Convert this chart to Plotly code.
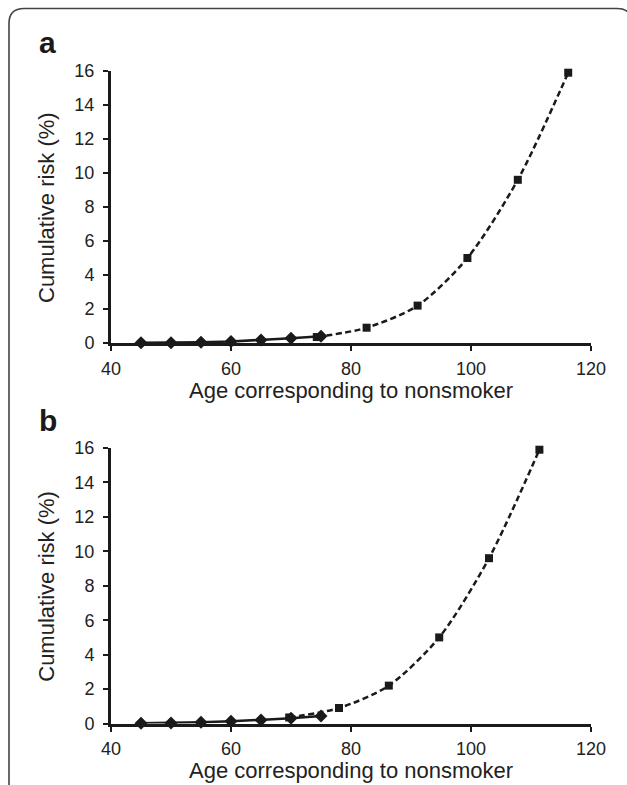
import plotly.graph_objects as go

W, H = 627, 785

# Data
smoker_ages = [45, 50, 55, 60, 65, 70, 75]
risk_a_solid = [0.01, 0.02, 0.04, 0.09, 0.17, 0.28, 0.40]
risk_b_solid = [0.01, 0.03, 0.07, 0.13, 0.20, 0.30, 0.44]

equiv_age_a = [74.3, 82.6, 91.1, 99.4, 107.8, 116.2]
equiv_age_b = [69.7, 78.0, 86.3, 94.7, 103.0, 111.4]
risk_dashed = [0.35, 0.9, 2.2, 5.0, 9.6, 15.9]

x_ticks = [40, 60, 80, 100, 120]
y_ticks = [0, 2, 4, 6, 8, 10, 12, 14, 16]
panel_labels = ["a", "b"]
x_title = "Age corresponding to nonsmoker"
y_title = "Cumulative risk (%)"

def px(x):
    return x / W

def py(y):
    return 1 - y / H

fig = go.Figure()

for i, (ages, solid, rks) in enumerate([(equiv_age_a, risk_a_solid, risk_dashed),
                                         (equiv_age_b, risk_b_solid, risk_dashed)]):
    xa = "x" if i == 0 else "x2"
    ya = "y" if i == 0 else "y2"
    fig.add_trace(go.Scatter(x=ages, y=rks, xaxis=xa, yaxis=ya, mode="lines+markers",
                             line=dict(color="#1a1a1a", width=2.5, dash="6px,3.5px", shape="spline", smoothing=0.8),
                             marker=dict(symbol="square", size=8, color="#1a1a1a"),
                             cliponaxis=False, showlegend=False))
    fig.add_trace(go.Scatter(x=smoker_ages, y=solid, xaxis=xa, yaxis=ya, mode="lines+markers",
                             line=dict(color="#1a1a1a", width=2.5),
                             marker=dict(symbol="diamond", size=10, color="#1a1a1a"),
                             cliponaxis=False, showlegend=False))

font_family = "Liberation Sans, Arial, sans-serif"
axis_common = dict(showline=True, linecolor="#1a1a1a", linewidth=3, ticks="outside",
                   ticklen=5, tickwidth=2, tickcolor="#1a1a1a", showgrid=False, zeroline=False,
                   automargin=False,
                   tickfont=dict(family=font_family, size=18, color="#222"))

x_dom = [px(111), px(591)]
ya_dom = [py(343), py(71)]
yb_dom = [py(723.5), py(448)]
fig.update_layout(
    width=W, height=H, margin=dict(l=0, r=0, t=0, b=0, pad=0),
    paper_bgcolor="white", plot_bgcolor="white",
    xaxis=dict(domain=x_dom, range=[40, 120], tickvals=x_ticks, anchor="y",
               ticklabelstandoff=2, **axis_common),
    yaxis=dict(domain=ya_dom, range=[0, 16], tickvals=y_ticks, anchor="x",
               ticklabelstandoff=5, **axis_common),
    xaxis2=dict(domain=x_dom, range=[40, 120], tickvals=x_ticks, anchor="y2",
                ticklabelstandoff=2, **axis_common),
    yaxis2=dict(domain=yb_dom, range=[0, 16], tickvals=y_ticks, anchor="x2",
                ticklabelstandoff=5, **axis_common),
)

title_font = dict(family=font_family, size=22, color="#222")
for axis_y, top_y in [(343, 71), (723.5, 448)]:
    # x axis title
    fig.add_annotation(text=x_title, xref="paper", yref="paper", x=px(351), y=py(axis_y + 47),
                       xanchor="center", yanchor="middle", showarrow=False, font=title_font)
    # y axis title
    fig.add_annotation(text=y_title, xref="paper", yref="paper", x=px(47), y=py((axis_y + top_y) / 2),
                       xanchor="center", yanchor="middle", textangle=-90, showarrow=False, font=title_font)

# panel labels
for lab, yc in zip(panel_labels, [43, 420.5]):
    fig.add_annotation(text="<b>%s</b>" % lab, xref="paper", yref="paper",
                       x=px(37), y=py(yc), xanchor="left", yanchor="middle",
                       showarrow=False, font=dict(family=font_family, size=30, color="#1a1a1a"))

# rounded frame
r = 15
path = ("M {x0},{yb} L {x0},{y1} Q {x0},{yt} {x2},{yt} L {x3},{yt} Q {x4},{yt} {x4},{y1} L {x4},{yb}").format(
    x0=px(9), yb=py(795), y1=py(8.5 + r), yt=py(8.5), x2=px(9 + r), x3=px(632 - r), x4=px(632))
fig.add_shape(type="path", path=path, xref="paper", yref="paper",
              line=dict(color="#444", width=1.6))

fig.write_html("out.html")
